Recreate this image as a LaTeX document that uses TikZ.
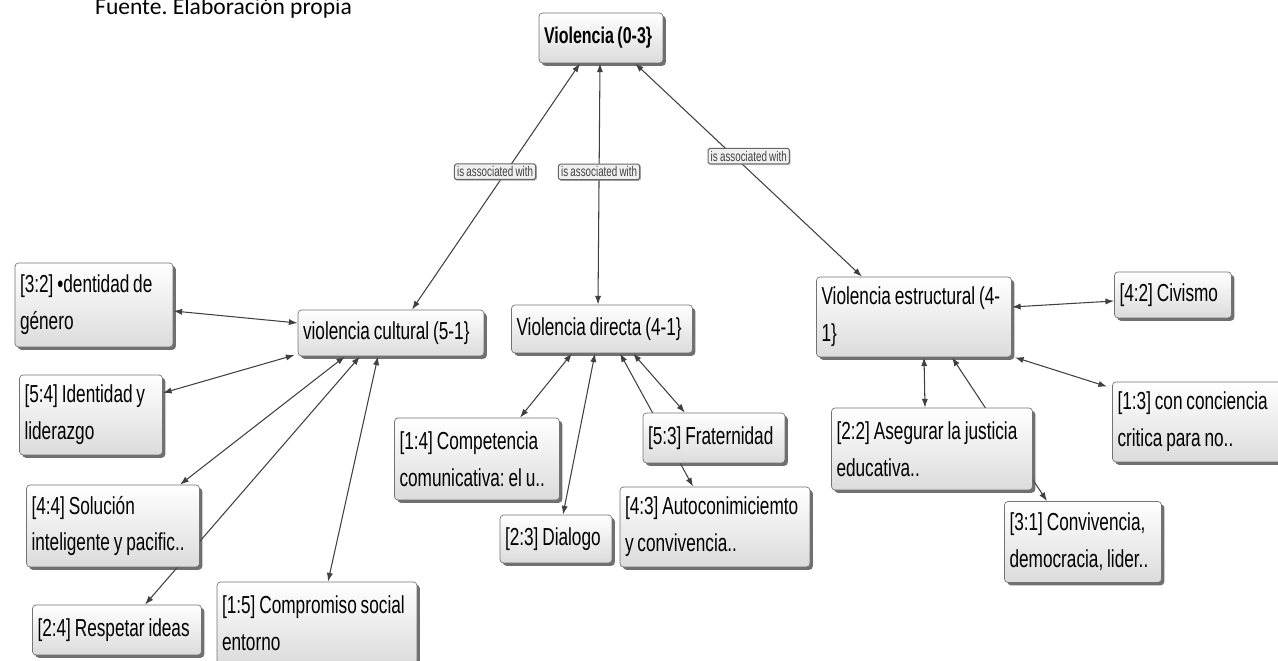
\documentclass[tikz,border=0pt]{standalone}
\usepackage{fontspec}
\newfontfamily\codefont[FakeStretch=0.7, WordSpace=0.8]{Liberation Sans}
\newfontfamily\capfont{Carlito}
\usetikzlibrary{calc, arrows.meta, shadows, backgrounds}
\frenchspacing

\tikzset{
  code/.style={draw=black!55, rounded corners=2pt, top color=white, bottom color=black!14,
    drop shadow={shadow xshift=1.6pt, shadow yshift=-1.6pt, fill=black!70, opacity=0.8},
    inner sep=0.1cm, align=flush left, font=\codefont\fontsize{14}{21}\selectfont},
  main/.style={code, font=\codefont\bfseries\fontsize{13}{20}\selectfont},
  rel/.style={draw=black!60, fill=black!6, rounded corners=1pt, inner sep=1.5pt,
    drop shadow={shadow xshift=0.7pt, shadow yshift=-0.7pt, fill=black!50},
    font=\codefont\fontsize{8}{9}\selectfont},
  link/.style={{Latex[length=5pt,width=3.5pt]}-{Latex[length=5pt,width=3.5pt]}, black!75, semithick}
}

\begin{document}
\begin{tikzpicture}[x=0.02cm, y=-0.02cm]
  \useasboundingbox (0,0) rectangle (1278,661);
  \node[anchor=base west, font=\capfont\fontsize{13.4}{16}\selectfont] (F) at (89,15) {Fuente. Elaboración propia};

  % codigos
  \node[main, text width=2.28cm, minimum height=1cm] (V) at (601,38) {Violencia (0-3\}};
  \node[code, text width=3.52cm, minimum height=0.92cm] (Vc) at (391,333) {violencia cultural (5-1\}};
  \node[code, text width=3.42cm, minimum height=0.96cm] (Vd) at (602,329) {Violencia directa (4-1\}};
  \node[code, text width=3.70cm, minimum height=1.6cm] (Ve) at (914,317) {Violencia estructural (4-\\1\}};

  \node[code, text width=2.96cm, minimum height=1.68cm] (Gen) at (94,305) {[3:2] •dentidad de\\género};
  \node[code, text width=2.66cm, minimum height=1.6cm] (Lid) at (91,415) {[5:4] Identidad y\\liderazgo};
  \node[code, text width=3.26cm, minimum height=1.64cm] (Sol) at (113,526) {[4:4] Solución\\inteligente y pacific..};
  \node[code, text width=3.18cm, minimum height=1cm] (Res) at (117,630) {[2:4] Respetar ideas};
  \node[code, text width=3.8cm, minimum height=1.64cm] (Comp) at (317,623) {[1:5] Compromiso social\\entorno};

  \node[code, text width=3.1cm, minimum height=1.64cm] (Compe) at (477,459) {[1:4] Competencia\\comunicativa: el u..};
  \node[code, text width=2.04cm, minimum height=0.96cm] (Dia) at (556,539) {[2:3] Dialogo};
  \node[code, text width=2.64cm, minimum height=1cm] (Fra) at (714,438) {[5:3] Fraternidad};
  \node[code, text width=3.6cm, minimum height=1.6cm] (Auto) at (715,527) {[4:3] Autoconimiciemto\\y convivencia..};

  \node[code, text width=2.14cm, minimum height=0.92cm] (Civ) at (1173,295) {[4:2] Civismo};
  \node[code, text width=3.3cm, minimum height=1.6cm] (Con) at (1200,422) {[1:3] con conciencia\\critica para no..};
  \node[code, text width=3.82cm, minimum height=1.64cm] (Jus) at (932,449) {[2:2] Asegurar la justicia\\educativa..};
  \node[code, text width=2.94cm, minimum height=1.62cm] (Conv) at (1083,542) {[3:1] Convivencia,\\democracia, lider..};

  % relaciones
  \begin{pgfonlayer}{background}
    \draw[link] ($(Vc.north)+(21,0)$) -- node[rel, pos=0.56, xshift=-0.22cm] (r1) {is associated with} ($(V.south)+(-21,0)$);
    \draw[link] ($(Vd.north)+(-4,0)$) -- node[rel, pos=0.55] (r2) {is associated with} ($(V.south)+(-1,0)$);
    \draw[link] ($(Ve.north)+(-52,0)$) -- node[rel, pos=0.565, xshift=0.3cm] (r3) {is associated with} ($(V.south)+(34,0)$);

    \draw[link] ($(Gen.east)+(0,6)$) -- ($(Vc.west)+(0,-10)$);
    \draw[link] ($(Lid.east)+(0,-22)$) -- ($(Vc.west)+(-3,22)$);
    \draw[link] ($(Sol.north)+(67,0)$) -- ($(Vc.south)+(-46,0)$);
    \draw[link] ($(Res.north)+(28,0)$) -- ($(Vc.south)+(-31,0)$);
    \draw[link] ($(Comp.north)+(11,0)$) -- ($(Vc.south)+(-13,0)$);

    \draw[link] ($(Compe.north)+(43,0)$) -- ($(Vd.south)+(-30,0)$);
    \draw[link] ($(Dia.north)+(7,0)$) -- ($(Vd.south)+(-7,0)$);
    \draw[link] ($(Auto.north)+(-22,0)$) -- ($(Vd.south)+(18,0)$);
    \draw[link] ($(Fra.north)+(-29,0)$) -- ($(Vd.south)+(31,0)$);

    \draw[link] ($(Ve.east)+(0,-10)$) -- ($(Civ.west)+(0,6)$);
    \draw[link] ($(Ve.south east)+(3,0)$) -- ($(Con.north west)+(-5,5)$);
    \draw[link] ($(Ve.south)+(10,0)$) -- ($(Jus.north)+(-7,0)$);
    \draw[link] ($(Ve.south)+(38,0)$) -- ($(Conv.north)+(-36,0)$);
  \end{pgfonlayer}
\end{tikzpicture}
\end{document}
